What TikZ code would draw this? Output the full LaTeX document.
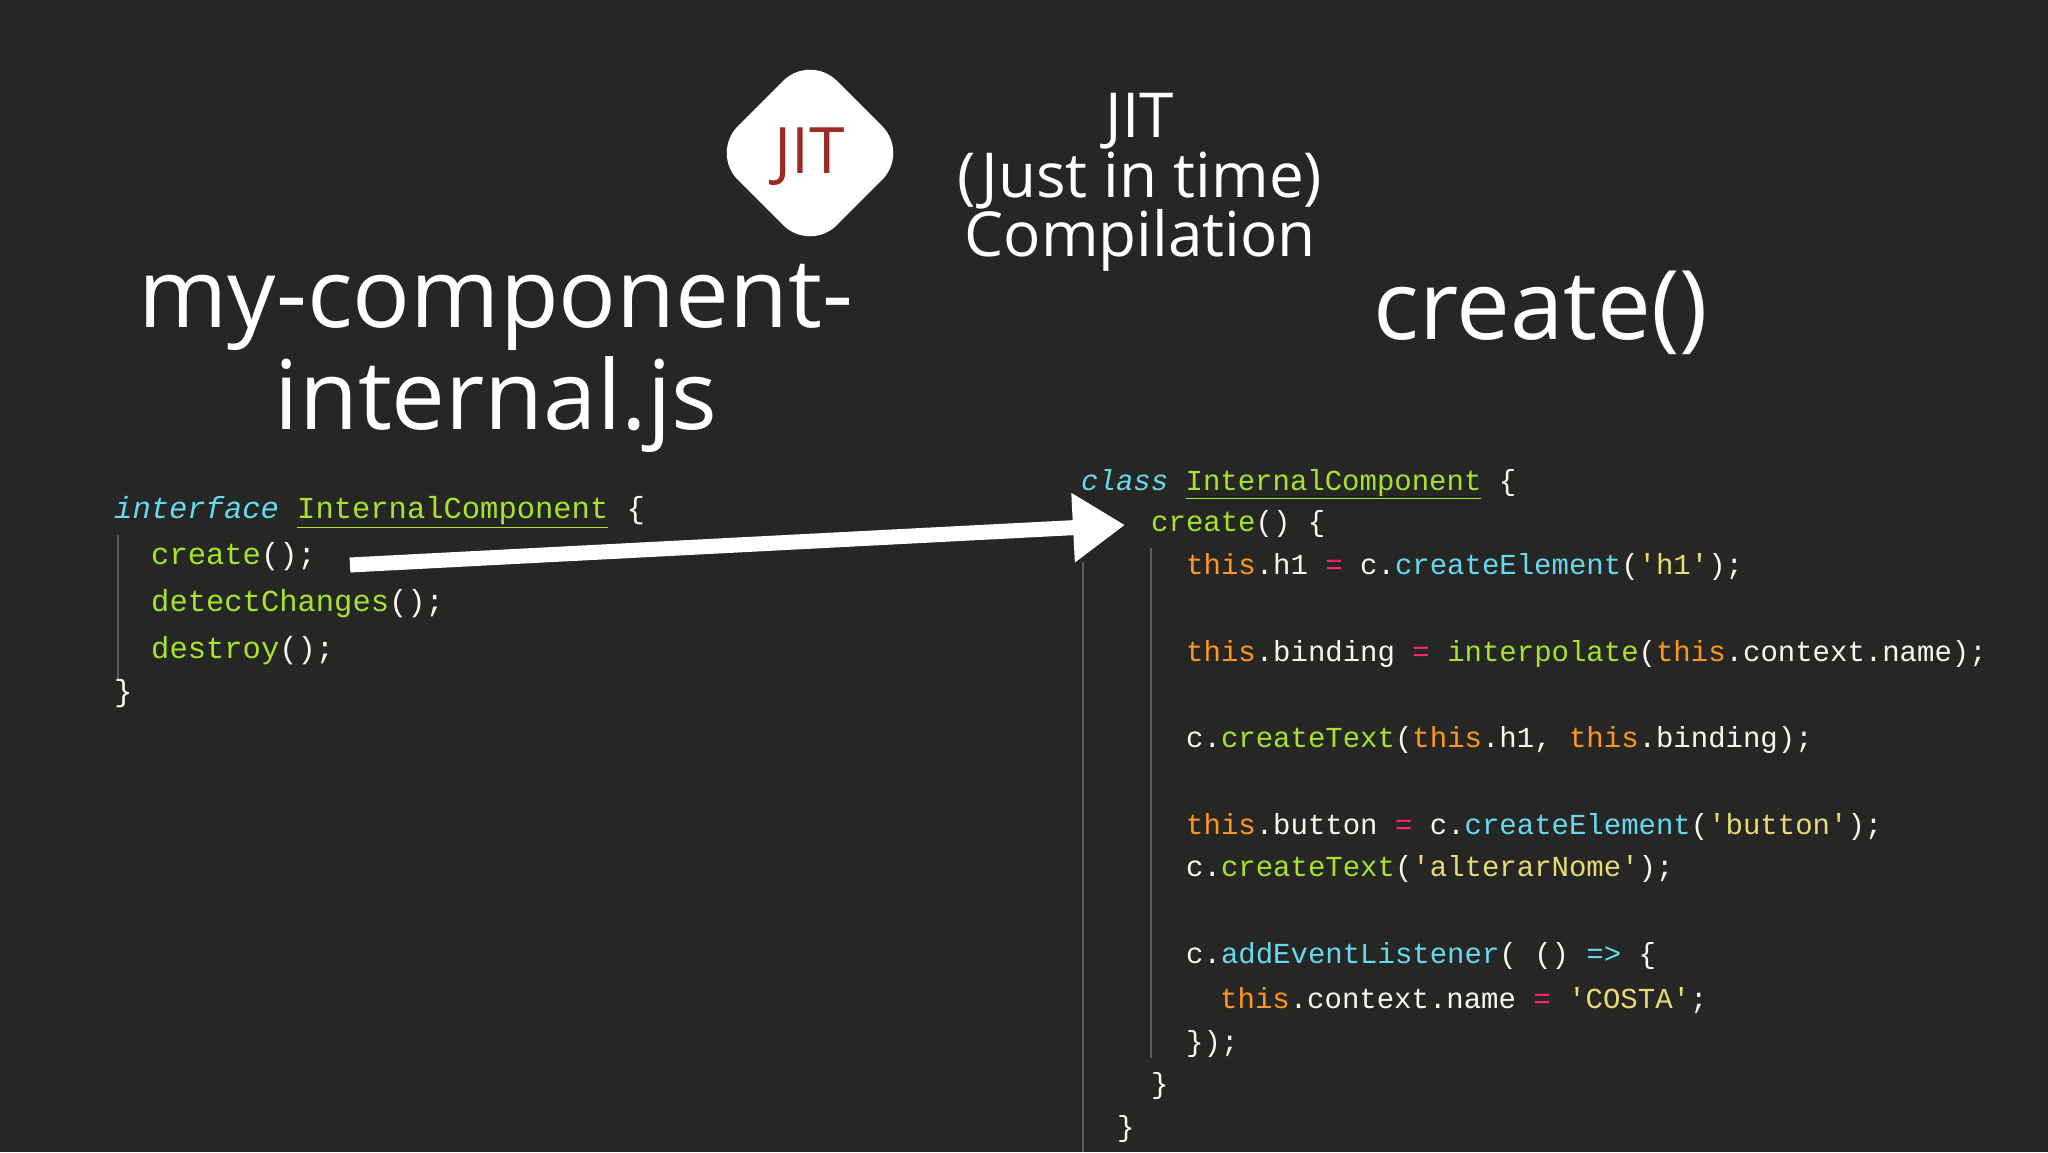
\documentclass[tikz,border=0pt]{standalone}
\usepackage{fontspec}
\setmainfont{Open Sans}
\setmonofont{Liberation Mono}
\usetikzlibrary{arrows.meta}
\definecolor{bg}{HTML}{262624}
\definecolor{ckwc}{HTML}{66D9EF}
\definecolor{cfnc}{HTML}{A6E22E}
\definecolor{cthc}{HTML}{FD971F}
\definecolor{copc}{HTML}{F92672}
\definecolor{cstc}{HTML}{E6DB74}
\definecolor{cwc}{HTML}{F8F8F2}
\definecolor{jitred}{HTML}{9B2A20}
\newcommand\ckw[1]{\textcolor{ckwc}{\itshape #1}}
\newcommand\cfn[1]{\textcolor{cfnc}{#1}}
\newcommand\cth[1]{\textcolor{cthc}{#1}}
\newcommand\cop[1]{\textcolor{copc}{#1}}
\newcommand\cst[1]{\textcolor{cstc}{#1}}
\begin{document}
\begin{tikzpicture}[x=1pt,y=1pt,
  code/.style={anchor=base west,inner sep=0,text=cwc,font=\ttfamily\fontsize{29}{29}\selectfont},
  lcode/.style={code,font=\ttfamily\fontsize{30.5}{30.5}\selectfont},
  title/.style={text=white,align=center,inner sep=0},
  guide/.style={draw=gray!60!bg,line width=1.2pt}]
\fill[bg] (0,0) rectangle (2048,1152);
\useasboundingbox (0,0) rectangle (2048,1152);
% JIT badge
\node[fill=white,rounded corners=38pt,minimum size=140pt,rotate=45,inner sep=0] (badge) at (810,999) {};
\node[text=jitred,font=\fontsize{64}{64}\selectfont,inner sep=0] (badgetxt) at (810,995) {JIT};
\node[title,font=\fontsize{62}{62}\selectfont,anchor=center] (jitt) at (1140,1031) {JIT};
\node[title,font=\fontsize{62}{62}\selectfont,anchor=center] (jitt2) at (1140,971) {(Just in time)};
\node[title,font=\fontsize{62}{62}\selectfont,anchor=center] (jitt3) at (1140,912) {Compilation};
% headings
\node[title,font=\fontsize{96}{96}\selectfont] (fname1) at (496,845) {my-component-};
\node[title,font=\fontsize{96}{96}\selectfont] (fname2) at (496,747) {internal.js};
\node[title,font=\fontsize{96}{96}\selectfont] (createh) at (1541,839) {create()};
% left code
\draw[guide] (118,617) -- (118,473);
\node[lcode] (l1) at (114,633) {\ckw{interface} \cfn{\underline{InternalComponent}} \{};
\node[lcode] (l2) at (151,587) {\cfn{create}();};
\node[lcode] (l3) at (151,540) {\cfn{detectChanges}();};
\node[lcode] (l4) at (151,493) {\cfn{destroy}();};
\node[lcode] (l5) at (114,450) {\}};
% right code
\draw[guide] (1083,590) -- (1083,0);
\draw[guide] (1151,604) -- (1151,94);
\node[code] (r1) at (1081,661) {\ckw{class} \cfn{\underline{InternalComponent}} \{};
\node[code] (r2) at (1151,620) {\cfn{create}() \{};
\node[code] (r3) at (1186,577) {\cth{this}.h1 \cop{=} c.\textcolor{ckwc}{createElement}(\cst{'h1'});};
\node[code] (r4) at (1186,490) {\cth{this}.binding \cop{=} \cfn{interpolate}(\cth{this}.context.name);};
\node[code] (r5) at (1186,404) {c.\cfn{createText}(\cth{this}.h1, \cth{this}.binding);};
\node[code] (r6) at (1186,317) {\cth{this}.button \cop{=} c.\textcolor{ckwc}{createElement}(\cst{'button'});};
\node[code] (r7) at (1186,275) {c.\cfn{createText}(\cst{'alterarNome'});};
\node[code] (r8) at (1186,189) {c.\textcolor{ckwc}{addEventListener}( () \textcolor{ckwc}{=>} \{};
\node[code] (r9) at (1220,144) {\cth{this}.context.name \cop{=} \cst{'COSTA'};};
\node[code] (r10) at (1186,101) {\});};
\node[code] (r11) at (1151,59) {\}};
\node[code] (r12) at (1117,16) {\}};
% arrow
\coordinate (astart) at (350,587);
\coordinate (aend) at (1125,627);
\draw[white,line width=15pt,-{Triangle[length=52pt,width=66pt]}] (astart) -- (aend);
\end{tikzpicture}
\end{document}
